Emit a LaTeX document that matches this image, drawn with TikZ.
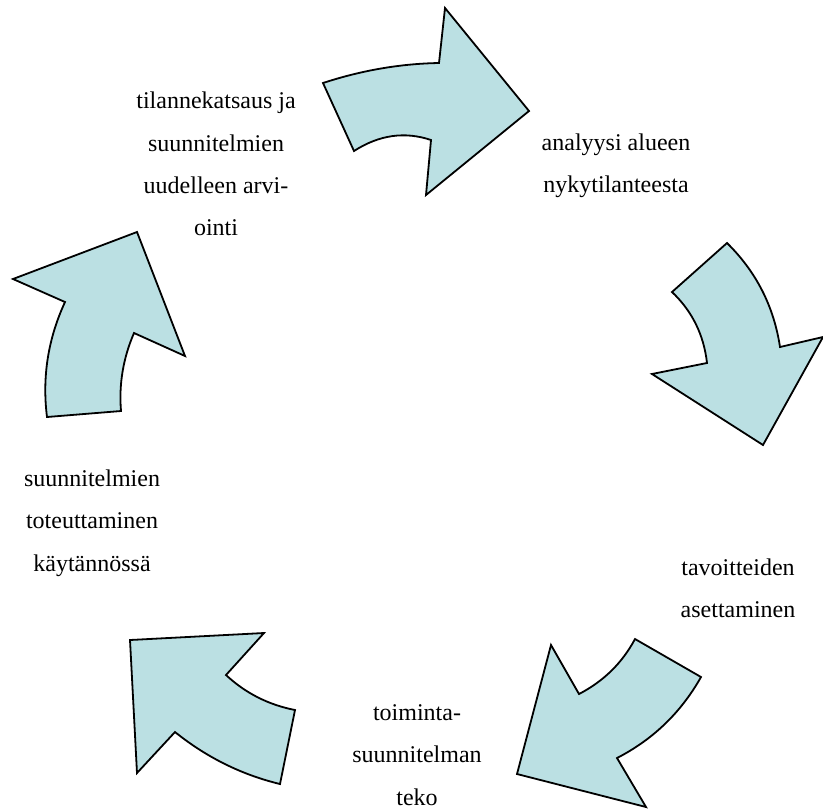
\documentclass[tikz,border=0pt]{standalone}
\usepackage{fontspec}
\setmainfont{Liberation Serif}
\usepackage{tikz}
\usepackage{xcolor}
\usetikzlibrary{calc}

\definecolor{kaari}{RGB}{187,224,227}

\begin{document}
\begin{tikzpicture}[x=0.5pt,y=-0.5pt]
    \tikzstyle{every node}=[align=center, inner sep=0pt, font=\fontsize{12}{21.2}\selectfont]
    \tikzstyle{nuoli}=[fill=kaari, draw=black, line width=0.9pt, line join=miter]
    \useasboundingbox (0,0) rectangle (823,810);

    % top arrow
    \filldraw[nuoli] (323,83) .. controls (361.7,70.3) and (400.3,63.7) .. (439,63) -- (445,8) -- (529,111)
        -- (426,195) -- (431,140) .. controls (404.8,131.2) and (379.2,134.8) .. (354,151) -- cycle;
    % right arrow
    \filldraw[nuoli] (727,243) .. controls (756.2,271.7) and (773.8,306.3) .. (780,347) -- (823,337) -- (763,445)
        -- (652,374) -- (707,363) .. controls (703.8,334.8) and (692.2,311.2) .. (672,292) -- cycle;
    % bottom right arrow
    \filldraw[nuoli] (701,677) .. controls (681,712.5) and (653,739.5) .. (617,758) -- (646,807) -- (517,774)
        -- (551,645) -- (579,694) .. controls (603.7,681.2) and (622.3,662.8) .. (635,639) -- cycle;
    % bottom left arrow
    \filldraw[nuoli] (280,784) .. controls (241.5,774.7) and (206.5,757.3) .. (175,732) -- (137,773) -- (130,640)
        -- (264,633) -- (226,675) .. controls (245.5,693.2) and (268.5,704.8) .. (295,710) -- cycle;
    % left arrow
    \filldraw[nuoli] (47,417) .. controls (42,377.2) and (48,338.8) .. (65,302) -- (13,279) -- (137,232)
        -- (185,356) -- (134,333) .. controls (123.2,358) and (118.8,384) .. (121,411) -- cycle;

    \node (t1) at (616,166) {analyysi alueen\\nykytilanteesta};
    \node (t2) at (738,588) {tavoitteiden\\asettaminen};
    \node (t3) at (417,755) {toiminta-\\suunnitelman\\teko};
    \node (t4) at (92,523) {suunnitelmien\\toteuttaminen\\käytännössä};
    \node (t5) at (216,164) {tilannekatsaus ja\\suunnitelmien\\uudelleen arvi-\\ointi};
\end{tikzpicture}
\end{document}
